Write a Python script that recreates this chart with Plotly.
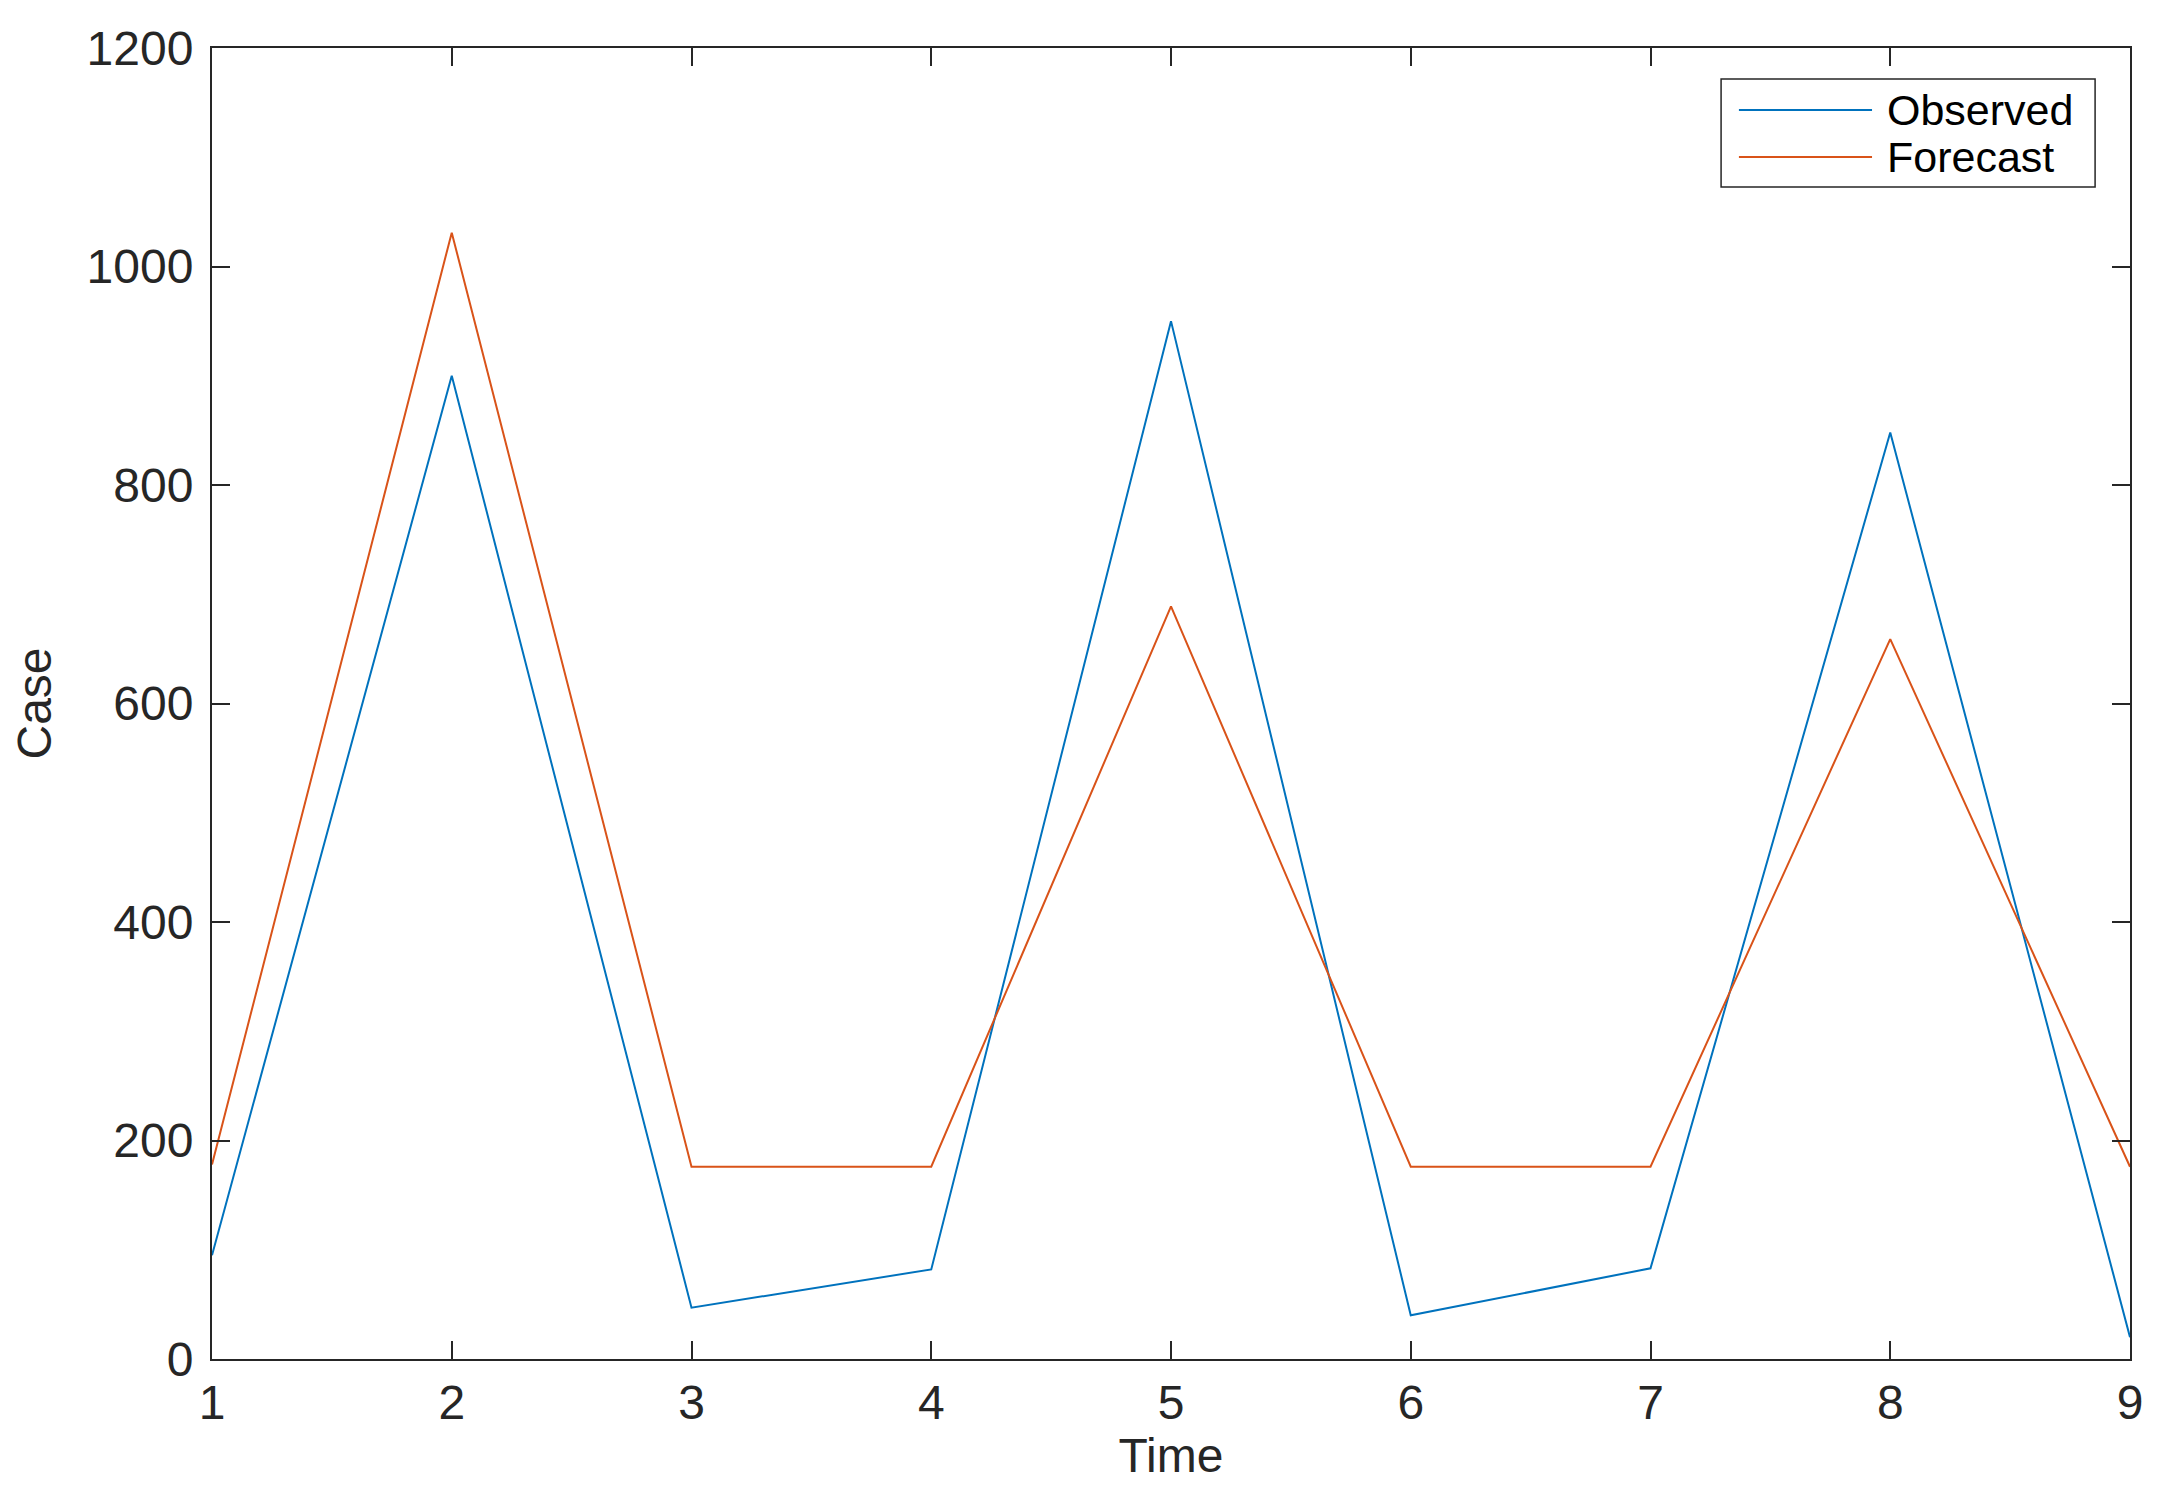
import plotly.graph_objects as go

time = [1, 2, 3, 4, 5, 6, 7, 8, 9]
observed = [95, 900, 47, 82, 950, 40, 83, 848, 20]
forecast = [178, 1031, 176, 176, 689, 176, 176, 659, 176]
series_names = ["Observed", "Forecast"]
colors = ["#0072BD", "#D95319"]
y_ticks = [0, 200, 400, 600, 800, 1000, 1200]
x_ticks = time

FONT = "Liberation Sans, Arial, Helvetica, sans-serif"
TXT = "#262626"

fig = go.Figure()
for name, vals, col in zip(series_names, [observed, forecast], colors):
    fig.add_trace(go.Scatter(x=time, y=vals, mode="lines", name=name,
                             line=dict(color=col, width=2), showlegend=False))

axis_common = dict(showline=True, linecolor=TXT, linewidth=2, mirror="ticks",
                   ticks="inside", ticklen=18, tickwidth=1.5, tickcolor=TXT,
                   showgrid=False, zeroline=False,
                   tickfont=dict(family=FONT, size=48, color=TXT))

fig.update_xaxes(range=[1, 9], tickvals=x_ticks,
                 title=dict(text="Time", font=dict(family=FONT, size=48, color=TXT), standoff=10),
                 **axis_common)
fig.update_yaxes(range=[0, 1200], tickvals=y_ticks, ticklabelstandoff=7,
                 title=dict(text="Case", font=dict(family=FONT, size=48, color=TXT), standoff=22),
                 **axis_common)

# custom legend box (MATLAB style)
x0, x1, y0, y1 = 0.7868, 0.9818, 0.894, 0.9764
fig.add_shape(type="rect", xref="paper", yref="paper", x0=x0, x1=x1, y0=y0, y1=y1,
              line=dict(color=TXT, width=1.5), fillcolor="white", layer="above")
rows = [0.9527, 0.9169]
for name, col, ry in zip(series_names, colors, rows):
    fig.add_shape(type="line", xref="paper", yref="paper", x0=0.7961, x1=0.8655,
                  y0=ry, y1=ry, line=dict(color=col, width=2), layer="above")
    fig.add_annotation(xref="paper", yref="paper", x=0.8723, y=ry, text=name,
                       showarrow=False, xanchor="left", yanchor="middle",
                       font=dict(family=FONT, size=43, color="black"))

# page body has an 8px margin; compensate so the plot area lands at 212..2130 x 48..1359
fig.update_layout(width=2147, height=1479,
                  margin=dict(l=204, r=25, t=40, b=128, autoexpand=False),
                  plot_bgcolor="white", paper_bgcolor="white",
                  font=dict(family=FONT, color=TXT))

fig.write_html("out.html")
